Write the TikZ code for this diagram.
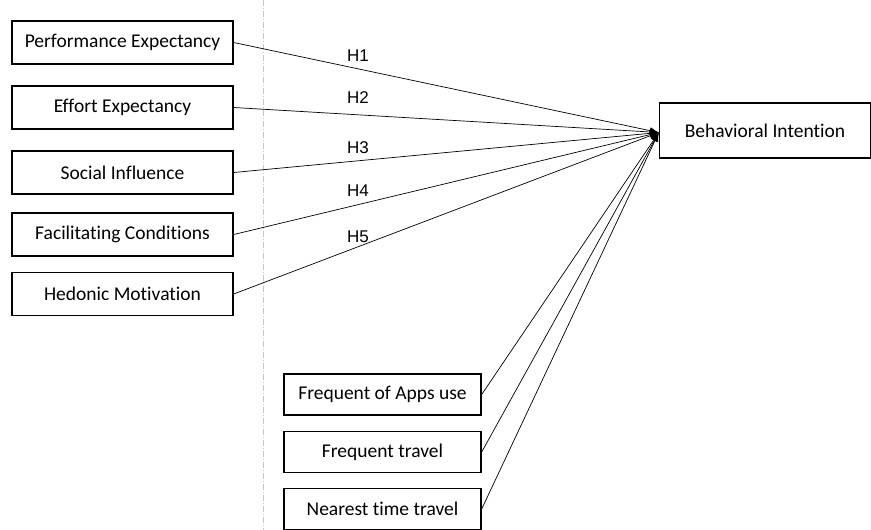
\documentclass[tikz,border=0pt]{standalone}
\usepackage{fontspec}
\setmainfont[Ligatures=NoCommon]{Carlito}
\newfontfamily\hfont{Liberation Sans}
\usepackage{xcolor}
\usetikzlibrary{arrows.meta}

\begin{document}
\begin{tikzpicture}[x=1pt, y=-1pt,
	factor/.style={draw, line width=1.4pt, minimum width=221pt, minimum height=43pt, inner sep=0pt, font=\fontsize{19.5}{22}\selectfont},
	control/.style={draw, line width=1.4pt, minimum width=197pt, minimum height=41pt, inner sep=0pt, font=\fontsize{19.5}{22}\selectfont},
	hyp/.style={inner sep=1pt, font=\hfont\fontsize{17}{20}\selectfont},
	path/.style={line width=0.7pt, -{Latex[length=9pt, width=7pt]}}]

\useasboundingbox (0,0) rectangle (871,530);

\coordinate (dtop) at (263,0);
\coordinate (dbot) at (263,530);
\draw[color=black!22!white, line width=0.8pt, dash pattern=on 6pt off 2pt on 1pt off 2pt] (dtop)--(dbot);

\node[factor] (pe) at (122.5,42.5) {Performance Expectancy};
\node[factor] (ee) at (122.5,107.5) {Effort Expectancy};
\node[factor] (si) at (122.5,172.5) {Social Influence};
\node[factor] (fc) at (122.5,234.5) {Facilitating Conditions};
\node[factor] (hm) at (122.5,294) {Hedonic Motivation};

\node[draw, line width=1.4pt, minimum width=211pt, minimum height=55pt, inner sep=0pt, font=\fontsize{19.5}{22}\selectfont] (bi) at (765,130.5) {Behavioral Intention};

\node[control] (fa) at (382.5,394.5) {Frequent of Apps use};
\node[control] (ft) at (382.5,452) {Frequent travel};
\node[control] (nt) at (382.5,509) {Nearest time travel};

\coordinate (tip) at ([yshift=-2pt]bi.west);

\foreach \src in {pe,ee,si,fc,hm,fa,ft,nt}
	{
		\draw[path] (\src.east)--(tip);
	}

\node[hyp] (h1) at (358,56) {H1};
\node[hyp] (h2) at (358,97.5) {H2};
\node[hyp] (h3) at (358,148) {H3};
\node[hyp] (h4) at (358,191) {H4};
\node[hyp] (h5) at (358,236.5) {H5};

\end{tikzpicture}
\end{document}
